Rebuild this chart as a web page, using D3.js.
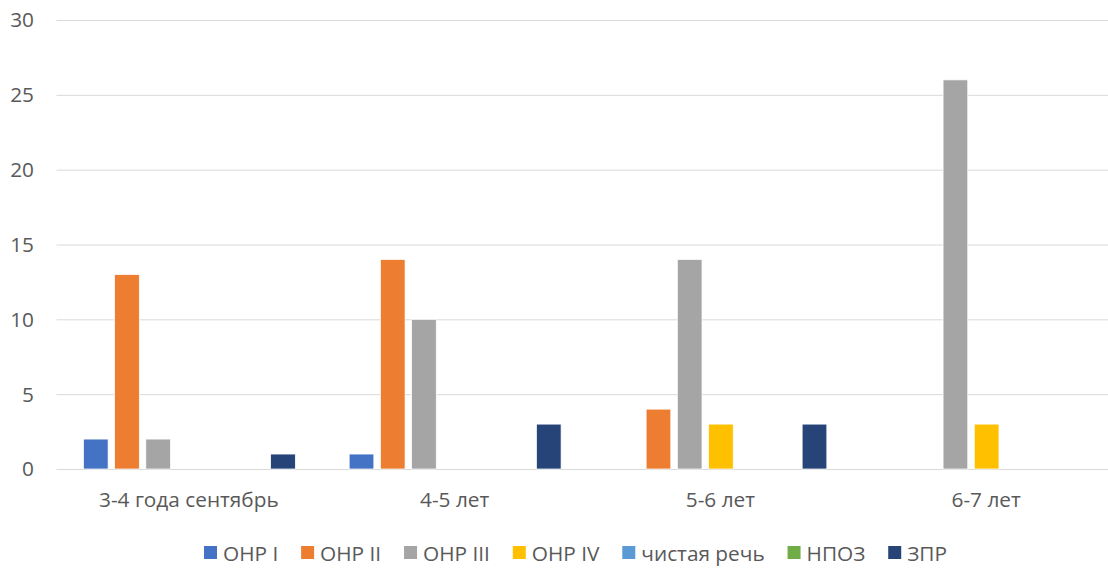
<!DOCTYPE html>
<html>
<head>
<meta charset="utf-8">
<script src="https://cdn.jsdelivr.net/npm/d3@7"></script>
<style>
  body { margin: 0; background: #fff; }
  text { font-family: "Open Sans", sans-serif; fill: #595959; }
</style>
</head>
<body>
<script>
var categories = ["3-4 года сентябрь", "4-5 лет", "5-6 лет", "6-7 лет"]
var seriesNames = ["ОНР I", "ОНР II", "ОНР III", "ОНР IV", "чистая речь", "НПОЗ", "ЗПР"]
var seriesColors = ["#4472C4", "#ED7D31", "#A5A5A5", "#FFC000", "#5B9BD5", "#70AD47", "#264478"]
// values per series, one per category
var onr1   = [2, 1, 0, 0]
var onr2   = [13, 14, 4, 0]
var onr3   = [2, 10, 14, 26]
var onr4   = [0, 0, 3, 3]
var clean  = [0, 0, 0, 0]
var npoz   = [0, 0, 0, 0]
var zpr    = [1, 3, 3, 0]
var yTicks = [0, 5, 10, 15, 20, 25, 30]

var seriesValues = [onr1, onr2, onr3, onr4, clean, npoz, zpr]

var width = 1108, height = 568
var fontSize = "20.8px"

var svg = d3.select("body").append("svg")
    .attr("width", width)
    .attr("height", height)

var x = d3.scaleBand().domain(categories).range([56.5, 1119.5])
var inner = d3.scaleBand().domain(d3.range(seriesNames.length))
    .range([26.9, x.bandwidth() - 26.9])
    .paddingInner(0.208).paddingOuter(0)
var y = d3.scaleLinear().domain([0, 30]).range([469, 20])

// gridlines
svg.append("g").selectAll("line")
    .data(yTicks).enter()
  .append("line")
    .attr("x1", x.range()[0]).attr("x2", x.range()[1])
    .attr("y1", function(d){ return y(d) + 0.5 })
    .attr("y2", function(d){ return y(d) + 0.5 })
    .attr("stroke", "#d9d9d9")
    .attr("stroke-width", 1)

// y tick labels
svg.append("g").selectAll("text")
    .data(yTicks).enter()
  .append("text")
    .attr("x", 34)
    .attr("y", function(d){ return y(d) })
    .attr("dy", "0.36em")
    .attr("text-anchor", "end")
    .style("font-size", fontSize)
    .text(function(d){ return d })

// bars
var groups = svg.append("g").selectAll("g")
    .data(categories).enter()
  .append("g")
    .attr("transform", function(d){ return "translate(" + x(d) + ",0)" })

groups.selectAll("rect")
    .data(function(c, ci){
      return seriesValues.map(function(vals, si){ return {s: si, v: vals[ci]} })
    })
    .enter()
  .append("rect")
    .attr("x", function(d){ return inner(d.s) })
    .attr("width", inner.bandwidth())
    .attr("y", function(d){ return y(d.v) })
    .attr("height", function(d){ return y(0) - y(d.v) })
    .attr("fill", function(d){ return seriesColors[d.s] })
    .attr("stroke", "#fff")
    .attr("stroke-width", 0.75)

// category labels
svg.append("g").selectAll("text")
    .data(categories).enter()
  .append("text")
    .attr("x", function(d){ return x(d) + x.bandwidth() / 2 - 0.5 })
    .attr("y", 507)
    .attr("text-anchor", "middle")
    .style("font-size", fontSize)
    .text(function(d){ return d })

// legend
var legend = svg.append("g")
var items = legend.selectAll("g")
    .data(seriesNames).enter()
  .append("g")

items.append("rect")
    .attr("width", 13).attr("height", 13)
    .attr("y", 546)
    .attr("fill", function(d, i){ return seriesColors[i] })

items.append("text")
    .attr("x", 19)
    .attr("y", 560.5)
    .style("font-size", fontSize)
    .text(function(d){ return d })

var legendLeft = 204, legendRight = 947
var widths = []
items.each(function(){
  widths.push(19 + d3.select(this).select("text").node().getComputedTextLength())
})
var gap = (legendRight - legendLeft - d3.sum(widths)) / (widths.length - 1)
var pos = legendLeft
items.attr("transform", function(d, i){
  var t = "translate(" + pos + ",0)"
  pos += widths[i] + gap
  return t
})
</script>
</body>
</html>
